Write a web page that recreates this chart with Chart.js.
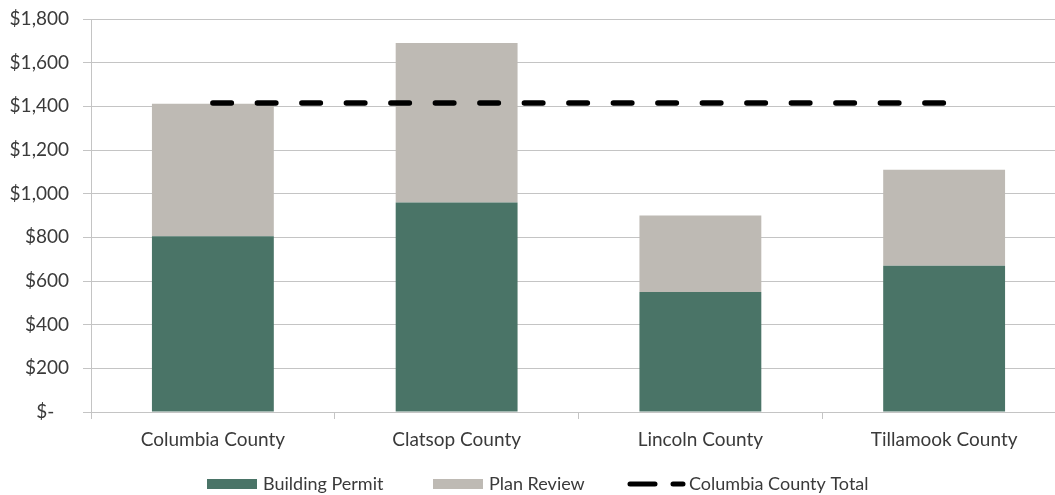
<!DOCTYPE html>
<html>
<head>
<meta charset="utf-8">
<script src="https://cdn.jsdelivr.net/npm/chart.js@4/dist/chart.umd.min.js"></script>
<style>
  html, body { margin: 0; padding: 0; background: #fff; overflow: hidden; }
  #wrap { width: 1066px; height: 495px; }
</style>
</head>
<body>
<div id="wrap"><canvas id="costChart"></canvas></div>
<script>
const counties = ["Columbia County", "Clatsop County", "Lincoln County", "Tillamook County"];
const buildingPermit = [805, 960, 550, 670];
const planReview = [607, 730, 350, 440];
const columbiaTotal = [1415, 1415, 1415, 1415];
const yTicks = [0, 200, 400, 600, 800, 1000, 1200, 1400, 1600, 1800];

const textColor = "#3a3a3a";
const gridColor = "#c4c4c4";
const fontFamily = "Lato, 'Open Sans', sans-serif";

// legend drawn by hand so the dashed line icon looks like the original
const customLegend = {
    id: "customLegend",
    afterDraw(chart) {
        const ctx = chart.ctx;
        const sets = chart.data.datasets;
        const starts = [207, 433, 627];
        const y = 484;
        ctx.save();
        ctx.font = "18px " + fontFamily;
        ctx.textBaseline = "middle";
        ctx.fillStyle = textColor;
        sets.forEach((ds, i) => {
            const x = starts[i];
            if (ds.type === "line") {
                ctx.strokeStyle = ds.borderColor;
                ctx.lineWidth = 5;
                ctx.lineCap = "round";
                ctx.beginPath();
                ctx.moveTo(x + 3, y); ctx.lineTo(x + 28, y);
                ctx.moveTo(x + 46, y); ctx.lineTo(x + 56, y);
                ctx.stroke();
                ctx.fillStyle = textColor;
                ctx.fillText(ds.label, x + 62, y);
            } else {
                ctx.fillStyle = ds.backgroundColor;
                ctx.fillRect(x, y - 5, 50, 10);
                ctx.fillStyle = textColor;
                ctx.fillText(ds.label, x + 56, y);
            }
        });
        ctx.restore();
    }
};

const ctx = document.getElementById("costChart").getContext("2d");

new Chart(ctx, {
    data: {
        labels: counties,
        datasets: [
            {
                type: "bar",
                label: "Building Permit",
                data: buildingPermit,
                backgroundColor: "#4a7467",
                stack: "fees",
                order: 2
            },
            {
                type: "bar",
                label: "Plan Review",
                data: planReview,
                backgroundColor: "#bebab4",
                stack: "fees",
                order: 2
            },
            {
                type: "line",
                label: "Columbia County Total",
                data: columbiaTotal,
                borderColor: "#000000",
                borderWidth: 5.5,
                borderDash: [18.5, 26],
                borderCapStyle: "round",
                pointRadius: 0,
                fill: false,
                stack: "total",
                order: 0
            }
        ]
    },
    options: {
        responsive: true,
        maintainAspectRatio: false,
        animation: false,
        layout: { padding: { left: 0, right: 0, top: 19, bottom: 43 } },
        plugins: {
            legend: { display: false },
            tooltip: { enabled: false }
        },
        datasets: {
            bar: { categoryPercentage: 0.5, barPercentage: 1.0 }
        },
        scales: {
            x: {
                grid: {
                    offset: true,
                    drawOnChartArea: false,
                    drawTicks: true,
                    tickLength: 7,
                    color: gridColor
                },
                border: { color: gridColor, width: 1 },
                ticks: {
                    color: textColor,
                    font: { family: fontFamily, size: 19 },
                    padding: 9,
                    maxRotation: 0
                },
                afterFit(scale) { scale.height = 40; }
            },
            y: {
                stacked: true,
                min: 0,
                max: 1800,
                afterBuildTicks(scale) {
                    scale.ticks = yTicks.map(v => ({ value: v }));
                },
                grid: {
                    color: gridColor,
                    tickLength: 8
                },
                border: { color: gridColor, width: 1 },
                ticks: {
                    color: textColor,
                    font: { family: fontFamily, size: 19 },
                    padding: 14,
                    callback: v => v === 0 ? "$-   " : "$" + v.toLocaleString("en-US")
                },
                afterFit(scale) {
                    scale.width = 91;
                    scale.paddingTop = 0;
                    scale.paddingBottom = 0;
                }
            }
        }
    },
    plugins: [customLegend]
});
</script>
</body>
</html>
